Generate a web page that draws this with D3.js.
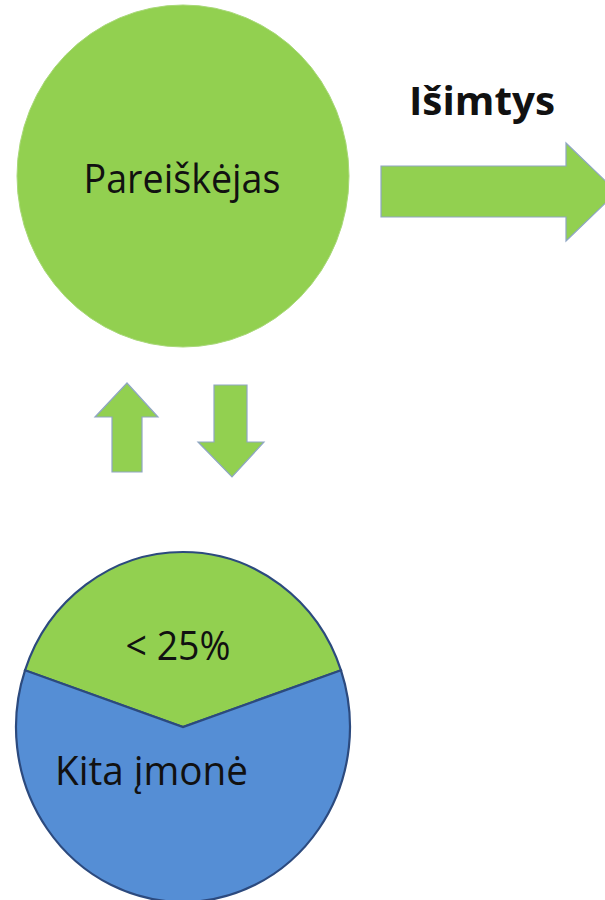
<!DOCTYPE html>
<html>
<head>
<meta charset="utf-8">
<script src="https://cdn.jsdelivr.net/npm/d3@7"></script>
<style>
  body { margin: 0; background: #fff; }
  text { font-family: "Open Sans", "DejaVu Sans", sans-serif; fill: #111; }
</style>
</head>
<body>
<div id="chart"></div>
<script>
// diagram content
const topNodeLabel = "Pareiškėjas";
const arrowLabel = "Išimtys";
const sliceLabels = ["< 25%", "Kita įmonė"];
const sliceShares = [39.5, 60.5];   // green cap vs blue rest, as drawn
const sliceColors = ["#92d050", "#558ed5"];

const width = 605, height = 900;
const green = "#92d050";
const arrowStroke = "#8fa6c4";

const svg = d3.select("#chart").append("svg")
  .attr("width", width)
  .attr("height", height)
  .attr("viewBox", [0, 0, width, height]);

// fit a label to a measured width while keeping a given font size
function label(g, txt, x, y, size, w, anchor, weight) {
  return g.append("text")
    .attr("x", x)
    .attr("y", y)
    .attr("text-anchor", anchor || "middle")
    .style("font-size", size + "px")
    .style("font-weight", weight || "normal")
    .attr("textLength", w)
    .attr("lengthAdjust", "spacingAndGlyphs")
    .text(txt);
}

// top circle
svg.append("ellipse")
  .attr("cx", 183).attr("cy", 176)
  .attr("rx", 166).attr("ry", 171)
  .attr("fill", green)
  .attr("stroke", "#a8d878")
  .attr("stroke-width", 1);
label(svg, topNodeLabel, 182, 193, 41, 197);

// right arrow + label
const arrowPts = (pts) => d3.line()(pts) + "Z";
svg.append("path")
  .attr("d", arrowPts([[381, 166], [566, 166], [566, 143], [617, 192], [566, 241], [566, 217], [381, 217]]))
  .attr("fill", green)
  .attr("stroke", arrowStroke)
  .attr("stroke-width", 1.2);
label(svg, arrowLabel, 482, 115, 40, 146, "middle", "bold");

// up / down arrows
svg.append("path")
  .attr("d", arrowPts([[127, 383], [158, 417], [142, 417], [142, 472], [112, 472], [112, 417], [95, 417]]))
  .attr("fill", green)
  .attr("stroke", arrowStroke)
  .attr("stroke-width", 1.2);
svg.append("path")
  .attr("d", arrowPts([[214, 385], [247, 385], [247, 442], [264, 442], [232, 477], [198, 442], [214, 442]]))
  .attr("fill", green)
  .attr("stroke", arrowStroke)
  .attr("stroke-width", 1.2);

// bottom pie
const rx = 167, ry = 175;
const pie = d3.pie().sort(null)
  .startAngle(-Math.PI * sliceShares[0] / 100)
  .endAngle(2 * Math.PI - Math.PI * sliceShares[0] / 100);
const arc = d3.arc().innerRadius(0).outerRadius(rx);

const pieG = svg.append("g")
  .attr("transform", `translate(183,727) scale(1,${ry / rx})`);
pieG.selectAll("path")
  .data(pie(sliceShares))
  .join("path")
  .attr("d", arc)
  .attr("fill", (d, i) => sliceColors[i])
  .attr("stroke", "#2c4a7e")
  .attr("stroke-width", 2.2)
  .attr("vector-effect", "non-scaling-stroke");

label(svg, sliceLabels[0], 178, 660, 41, 105);
label(svg, sliceLabels[1], 55, 785, 41, 193, "start");
</script>
</body>
</html>
